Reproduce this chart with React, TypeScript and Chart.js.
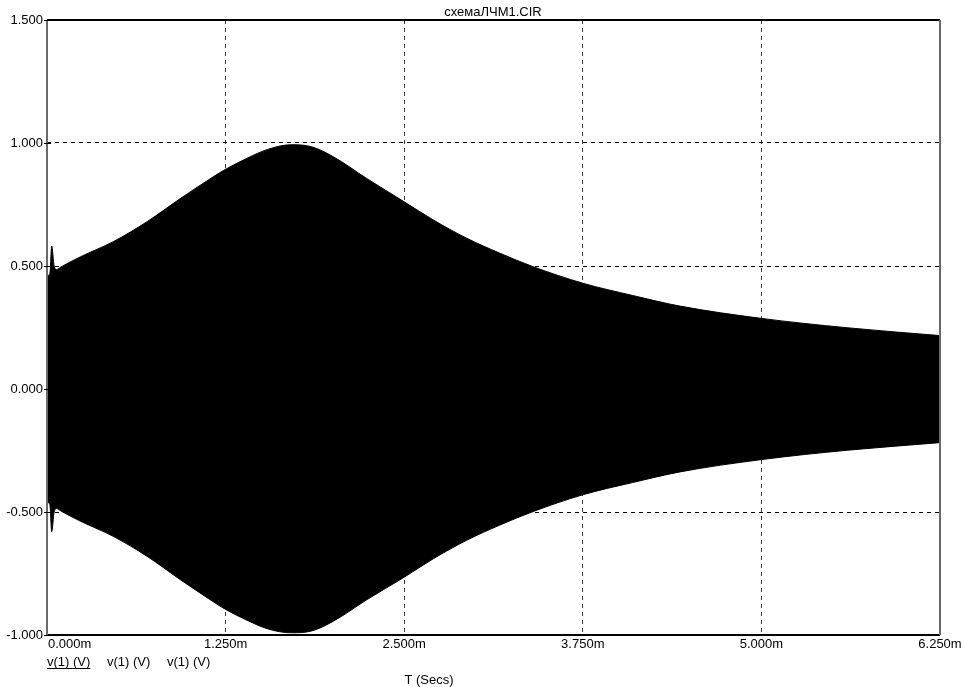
import React, { useEffect, useRef } from "react";
import { Chart, registerables } from "chart.js";

Chart.register(...registerables);

// time in ms
const times = [0, 0.02, 0.033, 0.05, 0.068, 0.1, 0.233, 0.467, 0.7, 0.933, 1.167, 1.25, 1.4, 1.55, 1.71, 1.85, 2.004, 2.237, 2.5, 2.704, 2.937, 3.17, 3.403, 3.75, 4.1, 4.43, 5.0, 5.6, 6.25];
const upperEnv = [0.46, 0.47, 0.581, 0.5, 0.486, 0.497, 0.537, 0.6, 0.68, 0.774, 0.864, 0.893, 0.938, 0.975, 0.993, 0.985, 0.944, 0.856, 0.761, 0.687, 0.613, 0.552, 0.497, 0.43, 0.38, 0.337, 0.287, 0.249, 0.217];
const lowerEnv = [-0.46, -0.47, -0.58, -0.5, -0.486, -0.497, -0.537, -0.6, -0.68, -0.775, -0.866, -0.896, -0.94, -0.976, -0.991, -0.984, -0.944, -0.857, -0.765, -0.69, -0.615, -0.553, -0.498, -0.43, -0.38, -0.337, -0.287, -0.249, -0.218];

const xTickValues = [0, 1.25, 2.5, 3.75, 5.0, 6.25];
const xTickLabels = ["0.000m", "1.250m", "2.500m", "3.750m", "5.000m", "6.250m"];
const yTickValues = [-1.0, -0.5, 0.0, 0.5, 1.0, 1.5];
const yTickLabels = ["-1.000", "-0.500", "0.000", "0.500", "1.000", "1.500"];

const titleText = "схемаЛЧМ1.CIR";
const legendLabels = ["v(1) (V)", "v(1) (V)", "v(1) (V)"];
const xAxisTitle = "T (Secs)";

const FONT = '"Liberation Sans", Arial, sans-serif';

export default function App() {
  const ref = useRef<HTMLCanvasElement | null>(null);

  useEffect(() => {
    document.body.style.margin = "0";
    const canvas = ref.current;
    if (!canvas) return;

    const overlay = {
      id: "overlay",
      afterDraw(chart: any) {
        const ctx = chart.ctx as CanvasRenderingContext2D;
        const area = chart.chartArea;
        const xs = chart.scales.x;
        const ys = chart.scales.y;
        ctx.save();
        // frame
        ctx.setLineDash([]);
        ctx.lineWidth = 2;
        ctx.strokeStyle = "#000";
        ctx.beginPath();
        ctx.moveTo(area.left, area.top);
        ctx.lineTo(area.right, area.top);
        ctx.moveTo(area.left, area.bottom);
        ctx.lineTo(area.right, area.bottom);
        ctx.stroke();
        ctx.strokeStyle = "#6a6a6a";
        ctx.beginPath();
        ctx.moveTo(area.left, area.top);
        ctx.lineTo(area.left, area.bottom);
        ctx.moveTo(area.right, area.top);
        ctx.lineTo(area.right, area.bottom);
        ctx.stroke();
        // y tick marks
        ctx.lineWidth = 1;
        ctx.strokeStyle = "#000";
        ctx.beginPath();
        yTickValues.forEach((v) => {
          const y = Math.round(ys.getPixelForValue(v)) + 0.5;
          ctx.moveTo(area.left - 3, y);
          ctx.lineTo(area.left + 4, y);
        });
        ctx.stroke();
        // x tick labels
        ctx.fillStyle = "#000";
        ctx.font = `13px ${FONT}`;
        ctx.textBaseline = "middle";
        xTickValues.forEach((v, i) => {
          const x = xs.getPixelForValue(v);
          ctx.textAlign = i === 0 ? "left" : "center";
          ctx.fillText(xTickLabels[i], i === 0 ? x + 1 : x, area.bottom + 9);
        });
        // title
        ctx.textAlign = "center";
        ctx.fillText(titleText, 493, 12);
        // legend
        ctx.textAlign = "left";
        const lx = [47, 107, 167];
        legendLabels.forEach((t, i) => {
          ctx.fillText(t, lx[i], 662);
        });
        const w = ctx.measureText(legendLabels[0]).width;
        ctx.beginPath();
        ctx.moveTo(lx[0], 668.5);
        ctx.lineTo(lx[0] + w, 668.5);
        ctx.stroke();
        // axis title
        ctx.textAlign = "center";
        ctx.fillText(xAxisTitle, 429, 680);
        ctx.restore();
      },
    };

    const chart = new Chart(canvas, {
      type: "line",
      data: {
        datasets: [
          {
            label: "upper",
            data: times.map((t, i) => ({ x: t, y: upperEnv[i] })),
            borderColor: "#000",
            backgroundColor: "#000",
            borderWidth: 1,
            pointRadius: 0,
            fill: "+1",
            cubicInterpolationMode: "monotone",
          },
          {
            label: "lower",
            data: times.map((t, i) => ({ x: t, y: lowerEnv[i] })),
            borderColor: "#000",
            backgroundColor: "#000",
            borderWidth: 1,
            pointRadius: 0,
            fill: false,
            cubicInterpolationMode: "monotone",
          },
        ],
      },
      options: {
        animation: false,
        responsive: false,
        maintainAspectRatio: false,
        events: [],
        layout: { padding: { top: 20, right: 25, bottom: 52, left: 0 } },
        plugins: {
          legend: { display: false },
          title: { display: false },
          tooltip: { enabled: false },
        },
        scales: {
          x: {
            type: "linear",
            min: 0,
            max: 6.25,
            afterBuildTicks: (scale: any) => {
              scale.ticks = xTickValues.map((v) => ({ value: v }));
            },
            ticks: { display: false },
            grid: {
              drawTicks: false,
              lineWidth: 1,
              color: (c: any) =>
                c.tick && (c.tick.value === 0 || c.tick.value === 6.25) ? "rgba(0,0,0,0)" : "#3a3a3a",
            },
            border: { display: false, dash: [4, 4] },
            afterFit: (scale: any) => {
              scale.height = 0;
            },
          },
          y: {
            type: "linear",
            min: -1,
            max: 1.5,
            afterBuildTicks: (scale: any) => {
              scale.ticks = yTickValues.map((v) => ({ value: v }));
            },
            ticks: {
              color: "#000",
              padding: 4,
              font: { family: FONT, size: 13 },
              callback: (v: any) => {
                const i = yTickValues.indexOf(Number(v));
                return i >= 0 ? yTickLabels[i] : "";
              },
            },
            grid: {
              drawTicks: false,
              lineWidth: 1,
              color: (c: any) =>
                c.tick && (c.tick.value === -1 || c.tick.value === 1.5) ? "rgba(0,0,0,0)" : "#000",
            },
            border: { display: false, dash: [4, 4] },
            afterFit: (scale: any) => {
              scale.width = 47;
            },
          },
        },
      },
      plugins: [overlay],
    } as any);

    return () => chart.destroy();
  }, []);

  return (
    <div style={{ position: "fixed", left: 0, top: 0, width: 965, height: 687, background: "#fff" }}>
      <canvas ref={ref} width={965} height={687} style={{ width: 965, height: 687, display: "block" }} />
    </div>
  );
}
